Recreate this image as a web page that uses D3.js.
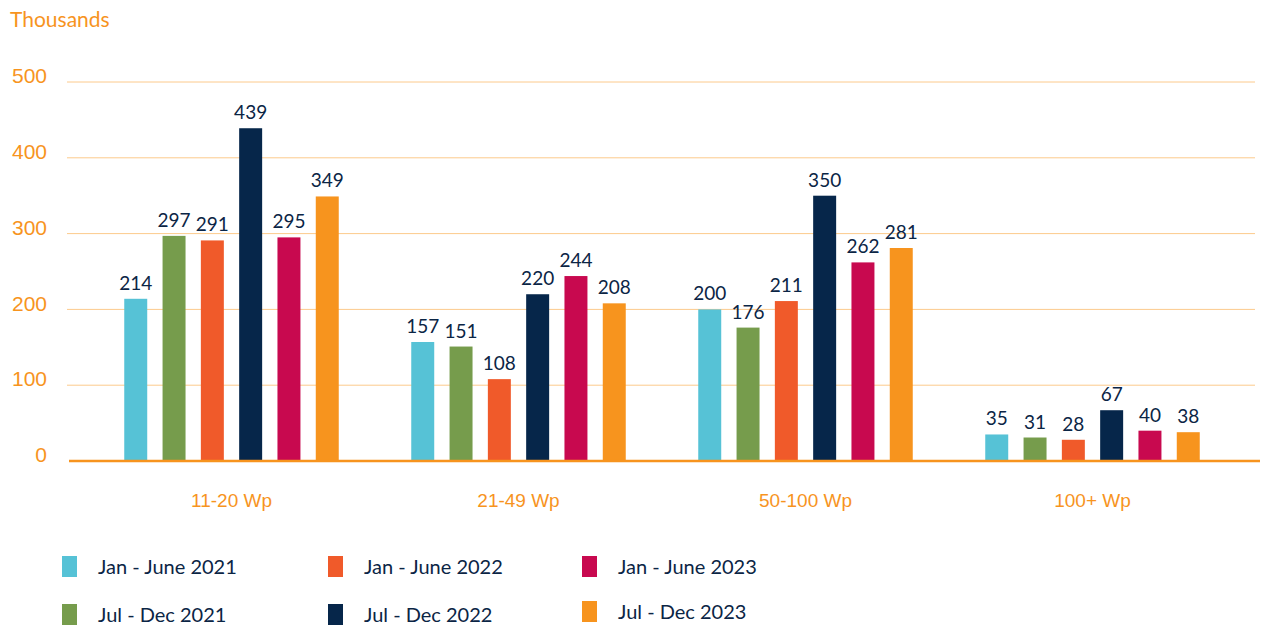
<!DOCTYPE html>
<html lang="en">
<head>
  <meta charset="UTF-8" />
  <title>Sales by Wp category</title>
  <script src="https://d3js.org/d3.v7.min.js"></script>
  <style>
    body {
      margin: 0;
      background: #fff;
      font-family: Lato, "Open Sans", sans-serif;
    }
    .tick text {
      font-size: 19px;
      fill: #f7941e;
    }
    .yaxis .tick text {
      font-size: 21px;
    }
    .value {
      font-size: 19px;
      fill: #0b2545;
      text-anchor: middle;
    }
    .legend text {
      font-size: 20px;
      fill: #0b2545;
    }
  </style>
</head>
<body>
  <svg width="1265" height="625"></svg>

  <script>
    const categories = ["11-20 Wp", "21-49 Wp", "50-100 Wp", "100+ Wp"];
    const seriesNames = [
      "Jan - June 2021", "Jul - Dec 2021",
      "Jan - June 2022", "Jul - Dec 2022",
      "Jan - June 2023", "Jul - Dec 2023"
    ];
    const seriesColors = ["#56c2d6", "#769c4c", "#f05a2a", "#06264a", "#c8094f", "#f7941e"];
    const jan2021 = [214, 157, 200, 35];
    const jul2021 = [297, 151, 176, 31];
    const jan2022 = [291, 108, 211, 28];
    const jul2022 = [439, 220, 350, 67];
    const jan2023 = [295, 244, 262, 40];
    const jul2023 = [349, 208, 281, 38];
    const yTicks = [0, 100, 200, 300, 400, 500];

    const allSeries = [jan2021, jul2021, jan2022, jul2022, jan2023, jul2023];

    const svg = d3.select("svg");

    const y = d3.scaleLinear().domain([0, 500]).range([461, 82]);
    const x0 = d3.scaleBand().domain(categories).range([88, 1236]);
    const x1 = d3.scaleBand().domain(seriesNames).range([0, 214.5]).paddingInner(0.4);
    const color = d3.scaleOrdinal().domain(seriesNames).range(seriesColors);

    // title
    svg.append("text")
      .attr("x", 10).attr("y", 27)
      .attr("font-size", 21)
      .attr("fill", "#f7941e")
      .text("Thousands");

    // gridlines
    svg.append("g")
      .selectAll("line")
      .data(yTicks.filter(d => d > 0))
      .join("line")
      .attr("x1", 67).attr("x2", 1255)
      .attr("y1", d => y(d)).attr("y2", d => y(d))
      .attr("stroke", "#fcca8c")
      .attr("stroke-width", 1);

    // y axis labels
    const yAxis = svg.append("g")
      .attr("class", "yaxis")
      .attr("transform", "translate(47,-6)")
      .call(d3.axisLeft(y).tickValues(yTicks).tickSize(0).tickPadding(0));
    yAxis.select(".domain").remove();

    // bars
    const rows = categories.map((c, i) => ({
      cat: c,
      vals: seriesNames.map((s, j) => ({ key: s, value: allSeries[j][i] }))
    }));

    const groups = svg.append("g")
      .selectAll("g")
      .data(rows)
      .join("g")
      .attr("transform", d => `translate(${x0(d.cat) + x0.bandwidth() / 2 - 107.25},0)`);

    groups.selectAll("rect")
      .data(d => d.vals)
      .join("rect")
      .attr("x", d => x1(d.key))
      .attr("y", d => y(d.value))
      .attr("width", x1.bandwidth())
      .attr("height", d => y(0) - y(d.value))
      .attr("fill", d => color(d.key));

    groups.selectAll("text")
      .data(d => d.vals)
      .join("text")
      .attr("class", "value")
      .attr("x", d => x1(d.key) + x1.bandwidth() / 2)
      .attr("y", d => y(d.value) - 9)
      .text(d => d.value);

    // baseline
    svg.append("line")
      .attr("x1", 69).attr("x2", 1260)
      .attr("y1", y(0)).attr("y2", y(0))
      .attr("stroke", "#f7941e")
      .attr("stroke-width", 2.5);

    // x axis labels
    const xAxis = svg.append("g")
      .attr("transform", "translate(0,493)")
      .call(d3.axisBottom(x0).tickSize(0).tickPadding(0));
    xAxis.select(".domain").remove();

    // legend
    const legendPos = [
      [62, 556], [62, 604],
      [328, 556], [328, 604],
      [582, 556], [582, 601]
    ];
    const legend = svg.append("g").attr("class", "legend")
      .selectAll("g")
      .data(seriesNames)
      .join("g")
      .attr("transform", (d, i) => `translate(${legendPos[i][0]},${legendPos[i][1]})`);

    legend.append("rect")
      .attr("width", 15).attr("height", 21)
      .attr("fill", d => color(d));

    legend.append("text")
      .attr("x", 36).attr("y", 18)
      .text(d => d);
  </script>
</body>
</html>
